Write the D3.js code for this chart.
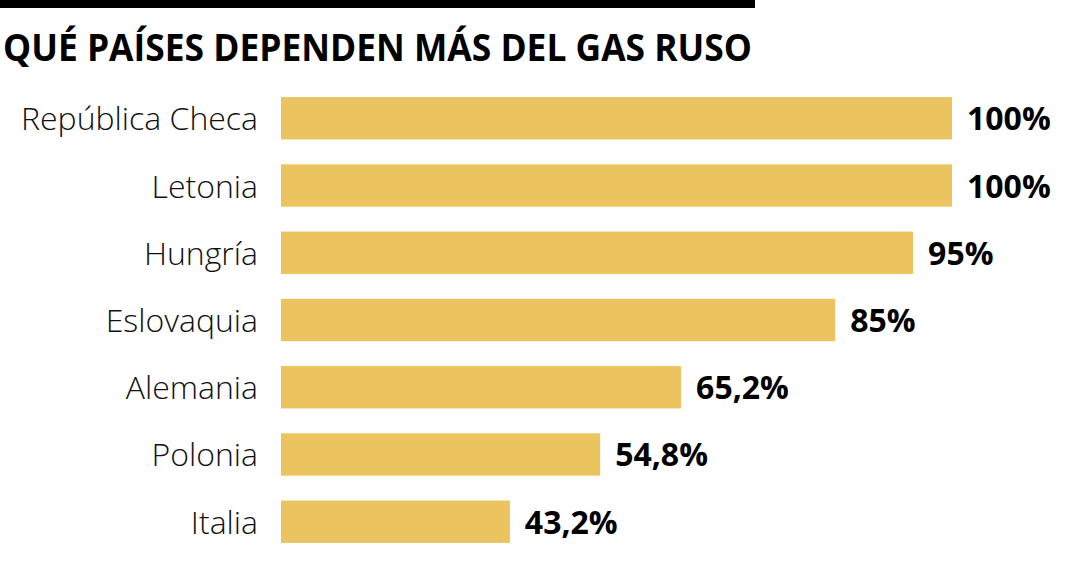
<!DOCTYPE html>
<html>
<head>
<meta charset="utf-8">
<script src="https://cdn.jsdelivr.net/npm/d3@7"></script>
<style>
  body { margin: 0; background: #fff; }
  svg { display: block; }
</style>
</head>
<body>
<script>
var countries = ["República Checa", "Letonia", "Hungría", "Eslovaquia", "Alemania", "Polonia", "Italia"];
var shares = [100, 100, 95, 85, 65.2, 54.8, 43.2];
var valueLabels = ["100%", "100%", "95%", "85%", "65,2%", "54,8%", "43,2%"];

var width = 1080, height = 567;

var svg = d3.select("body").append("svg")
  .attr("width", width)
  .attr("height", height);

// top rule
svg.append("rect")
  .attr("x", 0).attr("y", 0)
  .attr("width", 755).attr("height", 8)
  .attr("fill", "#000");

svg.append("text")
  .attr("x", 3).attr("y", 61)
  .attr("font-family", "Open Sans")
  .attr("font-weight", 700)
  .attr("font-size", 37)
  .attr("textLength", 749)
  .attr("lengthAdjust", "spacingAndGlyphs")
  .attr("fill", "#000")
  .text("QUÉ PAÍSES DEPENDEN MÁS DEL GAS RUSO");

// bars don't start at zero in the original: axis baseline is ~13.8
var x = d3.scaleLinear().domain([13.8, 100]).range([281, 952]);
var y = d3.scaleBand().domain(countries).range([87, 553]).paddingInner(0.37).paddingOuter(0.15);

var rows = svg.selectAll(".row")
  .data(countries)
  .enter().append("g")
  .attr("class", "row")
  .attr("transform", function(d) { return "translate(0," + y(d) + ")"; });

rows.append("rect")
  .attr("x", x(13.8))
  .attr("y", 0)
  .attr("height", y.bandwidth())
  .attr("width", function(d, i) { return x(shares[i]) - x(13.8); })
  .attr("fill", "#ebc35f");

rows.append("text")
  .attr("x", 258)
  .attr("y", y.bandwidth() / 2 + 12)
  .attr("text-anchor", "end")
  .attr("font-family", "Open Sans")
  .attr("font-weight", 300)
  .attr("font-size", 32)
  .attr("fill", "#111")
  .text(function(d) { return d; });

rows.append("text")
  .attr("x", function(d, i) { return x(shares[i]) + 15; })
  .attr("y", y.bandwidth() / 2 + 12)
  .attr("font-family", "Open Sans")
  .attr("font-weight", 700)
  .attr("font-size", 32)
  .attr("fill", "#000")
  .text(function(d, i) { return valueLabels[i]; });
</script>
</body>
</html>
